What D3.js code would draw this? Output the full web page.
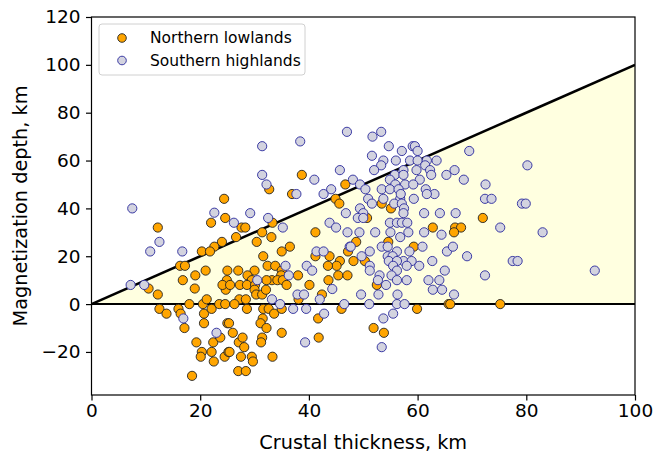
<!DOCTYPE html>
<html><head><meta charset="utf-8">
<script src="https://cdn.jsdelivr.net/npm/d3@7"></script>
<style>body{margin:0;background:#fff}svg{display:block}</style>
</head><body>
<svg id="c" width="655" height="454"></svg>
<script>
const xTicks = [0, 20, 40, 60, 80, 100];
const yTicks = [-20, 0, 20, 40, 60, 80, 100, 120];
const seriesNames = ["Northern lowlands", "Southern highlands"];

const northern = [
[12.2,32],[22,34],[24.4,44],[24.6,36],[24,26],[22.6,24],[20.3,22],[21.8,22],[16.3,16],[17.2,16],[21,14],[25,14],[16.8,10],[19.1,12],[19,6.5],[10.5,6.5],[24.9,10],
[12.2,4],[12.5,-2],[13.8,-4],[16,-2],[16.4,-4],[17.1,-10],[18,0],[20.5,0],[21.2,2],[20.7,-4],[22.1,-2],[20.7,-8],[23.5,0],[24.6,0],[25,-8],[19.3,-16],[20.3,-20],[20.1,-22],[22.1,-20],[22.5,-24],[22.4,-16],[23.7,-14],[24.5,-22],[25.2,-20],[18.5,-30],[24.7,6],
[38.7,54],[32.7,48],[36.9,46],[27.6,32],[28.3,32],[33.3,34],[31.4,30],[44.9,44],[45.6,42],[46.7,50],[26.6,28],[30.4,26],[33.1,28],[41.2,30],[35,22],[36.5,24],[31.6,20],[41.2,20],[43.8,20],[45.7,18],[45.1,16],[32.4,16],[33.8,16],[43.5,16],[27,14],[30,14],[35,14],[34.9,12],[28.7,12],[29.5,10],[33.2,10],[34.2,10],[32.2,10],[38,12],[35.2,10],[40.1,8],[43.6,10],[45.4,12],[47.1,12],
[24.1,8],[25.5,8],[27.3,8],[28.6,8],[30.1,8],[35.9,8],
[27.2,2],[28.4,2],[26.3,0],[28.6,-2],[31.6,-2],[32.6,-2],[33.6,-4],[35,-2],[25.3,-8],[31.5,-6],[31.1,-8],[32.2,-10],[26,-12],[35,-12],[31.4,-14],[31.2,-16],[27.1,-16],[27.8,-14],[28.1,-18],[25.4,-20],[27.5,-22],[29.5,-22],[29.7,-24],[33.3,-22],[27,-28],[28.4,-28],[38.1,2],[42.4,4],[41.7,-6],[41.8,-14],[46,-2],[30,6],[30.3,4],[31.4,4],[32.1,6],
[53.4,42],[55.1,40],[50.7,36],[62.8,32],[48.7,26],[47.2,22],[48.2,18],[50.3,18],[52.5,8],[54.6,26],[59.3,24],[59.9,-2],[51.9,-10],[53.8,-12],[65.7,0],
[72,36],[66.9,32],[68,32],[66.7,30],[66,0],[75.2,0]
];

const southern = [
[7.5,40],[12.5,26],[10.8,22],[16.7,22],[22.6,38.2],[7.2,8],[9.7,8],[16.9,-6],[23,-12],
[31.4,54],[32.2,50],[41,52],[45.7,56],[37.7,46],[42.7,46],[44.1,48],[29.2,38],[26.2,34],[32.5,36],[35.2,32],[43.8,34],[45,32],[46.8,38],[47.1,30],[41.4,22],[42.7,22],[47.5,24],[35.7,16],[39.6,16],[40.6,14],[36.3,12],[30.5,10],[44.3,6.3],
[31.4,66],[38.4,68],
[33.2,2],[34.7,0],[37.1,-2],[39.5,-2],[37.9,4],[39.1,4],[42,2],[42.8,-4],[46.5,0],[39.3,-16],
[47,72],[51.7,70],[53.3,72],[54.7,66],[59.1,66],[59.5,66],[57.1,64],[60,64],[51.6,62],[56,60],[53.7,60],[58.6,60],[60,60],[61.7,60],[63.5,60],[53.3,58],[61.4,58],[52,56],[57.4,56],[59.8,56],[62.3,56],[55.8,54],[57.4,54],[65.3,54],[48.1,52],[49.4,50],[54.9,52],[60.4,52],[62.5,54],[55.9,50],[57.7,50],[59.2,50],[50.4,48],[53.4,48],[54.9,48],[56.5,48],[61.5,48],[63.1,46],[61.7,46],[50.9,44],[53.7,44],[56.8,44],[56.9,46],[59.3,44],[51.6,42],[55.7,42],[57.1,42],[49.4,40],[50,38],[57.5,40],[57.4,38],[49,36],[50,36],[54.9,34],[56.2,34],[57.1,34],[58.1,34],[61.2,38],[64.1,38],[52.2,30],[55,30],[56.8,28],[58.3,30],[61.2,30],[64.4,29],
[49.3,30],[47.7,24],[49.7,20],[51.2,22],[53.4,24],[54.5,24],[56.2,22],[58.5,22],[60.9,24],[65.4,22],[54.5,20],[55.4,20],[57.4,18],[58.9,18],[54.7,18],[56.2,18],[58,16],[60.3,16],[62.7,18],[55.5,16],[56.2,14],[51.2,16],[51.2,14],[53,12],[55.2,12],[52.7,10],[54.2,8],[56.2,10],[58,10],[62,10],[64,10],[65,14],[62.8,6],[64.5,6],[49.6,4],[52.8,4],[56.3,4],[51.1,0],[56.2,0],[57.6,0],[55.5,-4],[53.7,-6],[53.4,-18],
[69.5,64],[80.2,58],[66.8,56],[68.5,52],[72.5,50],[72.4,44],[73.6,44],[79.2,42],[79.9,42],[67,38],[75.2,32],[83,30],
[66.5,24],[69.1,20],[77.5,18],[78.4,18],[72.4,12],[66.7,4],[92.6,14]
];

const svg = d3.select("#c");
const m = {l: 91.5, r: 635, t: 17, b: 395};
const x = d3.scaleLinear().domain([0, 100]).range([m.l, m.r]);
const y = d3.scaleLinear().domain([-38, 120]).range([m.b, m.t]);
const font = "DejaVu Sans, sans-serif";

svg.append("defs").append("clipPath").attr("id","clip").append("rect")
  .attr("x", m.l).attr("y", m.t).attr("width", m.r - m.l).attr("height", m.b - m.t);
const g = svg.append("g").attr("clip-path","url(#clip)");

g.append("path")
  .attr("d", d3.area().x(d => x(d)).y0(y(0)).y1(d => y(d))([0, 100]))
  .attr("fill", "#ffffe0");
g.append("line").attr("x1", x(0)).attr("x2", x(100)).attr("y1", y(0)).attr("y2", y(100))
  .attr("stroke", "#000").attr("stroke-width", 2.6);
g.append("line").attr("x1", x(0)).attr("x2", x(100)).attr("y1", y(0)).attr("y2", y(0))
  .attr("stroke", "#000").attr("stroke-width", 2);

g.selectAll("circle.n").data(northern).join("circle").attr("class","n")
  .attr("cx", d => x(d[0])).attr("cy", d => y(d[1])).attr("r", 4.6)
  .attr("fill", "#ffa500").attr("stroke", "#222").attr("stroke-width", 0.9);
g.selectAll("circle.s").data(southern).join("circle").attr("class","s")
  .attr("cx", d => x(d[0])).attr("cy", d => y(d[1])).attr("r", 4.6)
  .attr("fill", "#d3d3df").attr("stroke", "#28289c").attr("stroke-width", 0.9);

const xa = svg.append("g").attr("transform", `translate(0,${m.b})`)
  .call(d3.axisBottom(x).tickValues(xTicks).tickSize(5.5).tickPadding(4).tickFormat(d3.format("d")));
const ya = svg.append("g").attr("transform", `translate(${m.l},0)`)
  .call(d3.axisLeft(y).tickValues(yTicks).tickSize(5.5).tickPadding(5.5).tickFormat(d => d < 0 ? "\u2212" + Math.abs(d) : d));
[xa, ya].forEach(a => {
  a.select(".domain").remove();
  a.selectAll("line").attr("stroke", "#000").attr("stroke-width", 1.2);
  a.selectAll("text").attr("font-family", font).attr("font-size", 18.5).attr("fill", "#000");
});
xa.selectAll("text").attr("dy", "0.71em").attr("y", 9);
svg.append("rect").attr("x", m.l).attr("y", m.t).attr("width", m.r - m.l).attr("height", m.b - m.t)
  .attr("fill", "none").attr("stroke", "#000").attr("stroke-width", 1.2);

svg.append("text").attr("x", (m.l + m.r) / 2).attr("y", 449).attr("text-anchor", "middle")
  .attr("font-family", font).attr("font-size", 19.3).text("Crustal thickness, km");
svg.append("text").attr("transform", `translate(27,${(m.t + m.b) / 2}) rotate(-90)`).attr("text-anchor", "middle")
  .attr("font-family", font).attr("font-size", 19.3).text("Magnetization depth, km");

const lg = svg.append("g");
lg.append("rect").attr("x", 99).attr("y", 24).attr("width", 206).attr("height", 51).attr("rx", 3)
  .attr("fill", "#fff").attr("fill-opacity", 0.8).attr("stroke", "#d0d0d0").attr("stroke-width", 1);
const leg = [{n: seriesNames[0], f: "#ffa500", s: "#222"}, {n: seriesNames[1], f: "#d3d3df", s: "#28289c"}];
leg.forEach((d, i) => {
  const yy = 38 + i * 22.5;
  lg.append("circle").attr("cx", 122).attr("cy", yy).attr("r", 4.3).attr("fill", d.f).attr("stroke", d.s).attr("stroke-width", 0.9);
  lg.append("text").attr("x", 150).attr("y", yy).attr("dy", "0.35em").attr("font-family", font).attr("font-size", 15.5).text(d.n);
});
</script>
</body></html>
